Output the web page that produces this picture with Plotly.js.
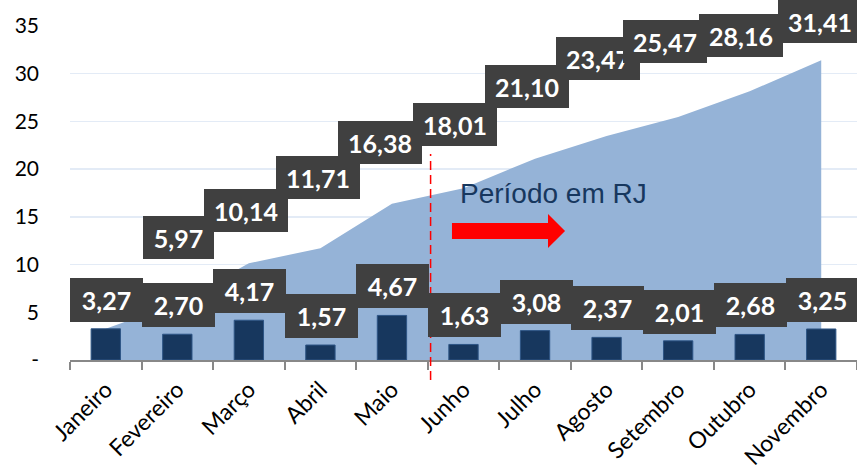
<!DOCTYPE html>
<html>
<head>
<meta charset="utf-8">
<script src="https://cdn.plot.ly/plotly-3.0.1.min.js"></script>
<style>html,body{margin:0;padding:0;background:#fff;}#chart{width:857px;height:474px;}</style>
</head>
<body>
<div id="chart"></div>
<script>
const meses = ['Janeiro','Fevereiro','Março','Abril','Maio','Junho','Julho','Agosto','Setembro','Outubro','Novembro'];
const mensal = [3.27, 2.70, 4.17, 1.57, 4.67, 1.63, 3.08, 2.37, 2.01, 2.68, 3.25];
const acumulado = [3.27, 5.97, 10.14, 11.71, 16.38, 18.01, 21.10, 23.47, 25.47, 28.16, 31.41];
const yTickVals = [0, 5, 10, 15, 20, 25, 30, 35];
const yTickText = ['-', '5', '10', '15', '20', '25', '30', '35'];

// label placement offsets (pixels) for the cumulative labels
const upperShiftY = [0, 44, 31, 49, 40, 42, 51, 56, 54, 34, 17];
const upperShiftX = [0, 1, -3, -2, -12, -9, -8, -9, -13, -9, -1];

const fmt = v => v.toFixed(2).replace('.', ',');

const area = {
  type: 'scatter', mode: 'lines', x: meses, y: acumulado,
  fill: 'tozeroy', fillcolor: '#95b3d7', line: {width: 0, color: '#95b3d7'},
  hoverinfo: 'skip', showlegend: false, yaxis: 'y'
};
const bars = {
  type: 'bar', x: meses, y: mensal, width: 0.41,
  marker: {color: '#17375e', line: {color: '#2e5585', width: 1}},
  hoverinfo: 'skip', showlegend: false, yaxis: 'y2'
};

const labelFont = {family: 'Lato, "Open Sans", sans-serif', size: 25, color: '#ffffff', weight: 'bold'};
const annotations = [];
mensal.forEach((v, i) => {
  const t = fmt(v);
  annotations.push({
    x: meses[i], y: v, xref: 'x', yref: 'y', text: '<b>' + t + '</b>', showarrow: false,
    xanchor: 'center', yanchor: 'bottom', yshift: 7, xshift: 1,
    bgcolor: '#404040', borderpad: 0, borderwidth: 0,
    width: t.length > 4 ? 84 : 73, height: 44, font: labelFont
  });
});
acumulado.forEach((v, i) => {
  if (i === 0) return;
  const t = fmt(v);
  annotations.push({
    x: meses[i], y: v, xref: 'x', yref: 'y', text: '<b>' + t + '</b>', showarrow: false,
    xanchor: 'center', yanchor: 'bottom', yshift: upperShiftY[i], xshift: upperShiftX[i],
    bgcolor: '#404040', borderpad: 0, borderwidth: 0,
    width: t.length > 4 ? 84 : 71, height: 43, font: labelFont
  });
});
annotations.push({
  x: 4.92, y: 17.5, xref: 'x', yref: 'y', text: 'Período em RJ', showarrow: false,
  xanchor: 'left', yanchor: 'middle',
  font: {family: '"Liberation Sans", Arial, sans-serif', size: 28, color: '#17375e'}
});

const layout = {
  width: 857, height: 474,
  margin: {l: 70, r: 0, t: 26, b: 114},
  paper_bgcolor: '#ffffff', plot_bgcolor: '#ffffff',
  showlegend: false,
  xaxis: {
    type: 'category', range: [-0.5, 10.5], tickangle: -45,
    tickson: 'boundaries', ticks: 'outside', ticklen: 8, tickcolor: '#888888', tickwidth: 2,
    showline: true, linecolor: '#888888', linewidth: 2,
    showgrid: false, fixedrange: true, ticklabelstandoff: 5,
    tickfont: {family: 'Lato, "Open Sans", sans-serif', size: 23, color: '#000000'}
  },
  yaxis: {
    range: [0, 35], tickvals: yTickVals, ticktext: yTickText,
    showgrid: true, gridcolor: '#e3ebf6', gridwidth: 1.5, zeroline: false,
    showline: false, ticks: '', ticklabelstandoff: 30,
    tickfont: {family: 'Lato, "Open Sans", sans-serif', size: 21, color: '#000000'},
    fixedrange: true
  },
  yaxis2: {
    range: [0, 35], overlaying: 'y', side: 'left', visible: false,
    showgrid: false, zeroline: false, fixedrange: true
  },
  shapes: [
    {type: 'line', xref: 'x', yref: 'paper', x0: 4.54, x1: 4.54, y0: -0.06, y1: 0.617,
     line: {color: '#ff0000', width: 1.5, dash: '9px,5px'}, layer: 'above'},
    {type: 'path', xref: 'x', yref: 'y', layer: 'above',
     path: 'M 4.839 14.36 L 6.181 14.36 L 6.181 15.30 L 6.419 13.52 L 6.181 11.74 L 6.181 12.68 L 4.839 12.68 Z',
     fillcolor: '#ff0000', line: {width: 0}}
  ],
  annotations: annotations
};

Plotly.newPlot('chart', [area, bars], layout, {displayModeBar: false, staticPlot: true});
</script>
</body>
</html>
